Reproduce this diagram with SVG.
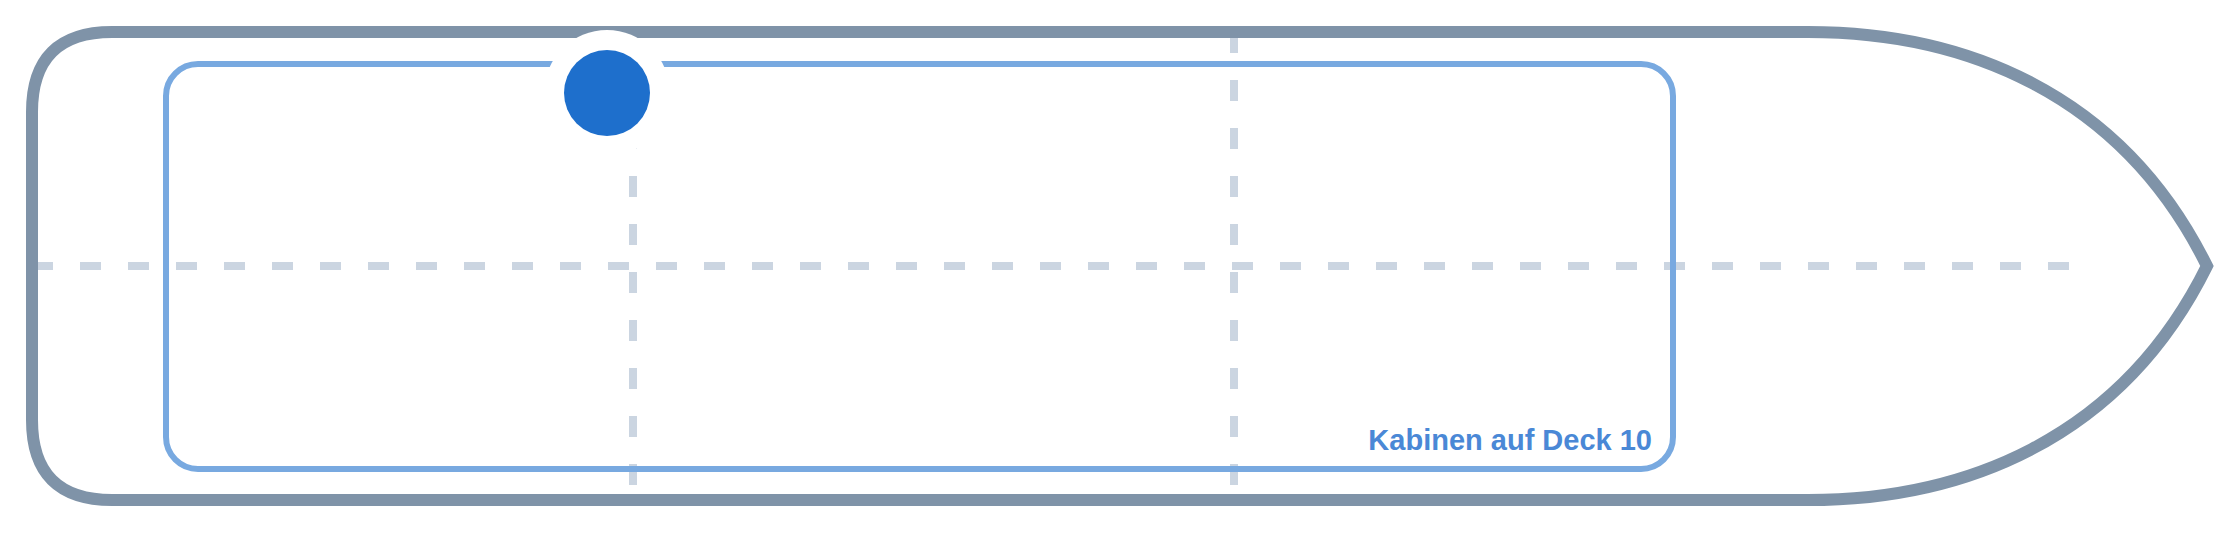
<svg xmlns="http://www.w3.org/2000/svg" width="2240" height="533" viewBox="0 0 2240 533">
  <style>
    .guide { fill: none; stroke: #cbd5e1; stroke-width: 8; stroke-dasharray: 21 27; }
    .hull { fill: none; stroke: #7f93a8; stroke-width: 12; stroke-linejoin: miter; }
    .deck { fill: none; stroke: #78a9e0; stroke-width: 6; }
    .label { font-family: "Liberation Sans", Arial, sans-serif; font-weight: bold; font-size: 29px; fill: #4a88d6; }
  </style>
  <rect width="2240" height="533" fill="#ffffff"/>
  <g id="guides">
    <line class="guide" x1="32" y1="266" x2="2080" y2="266"/>
    <line class="guide" x1="633" y1="32" x2="633" y2="500"/>
    <line class="guide" x1="1234" y1="32" x2="1234" y2="500"/>
  </g>
  <g id="hull">
    <path class="hull" d="M 112 32 H 1808 C 1960 32, 2120 90, 2207 266 C 2120 442, 1960 500, 1808 500 H 112 Q 32 500 32 420 V 112 Q 32 32 112 32 Z"/>
  </g>
  <g id="deck">
    <rect class="deck" x="166" y="64" width="1507" height="405" rx="32" ry="32"/>
    <text class="label" x="1652" y="450" text-anchor="end">Kabinen auf Deck 10</text>
  </g>
  <g id="marker">
    <circle cx="607" cy="93" r="63" fill="#ffffff"/>
    <circle cx="607" cy="93" r="43" fill="#1e6fcc"/>
  </g>
</svg>
